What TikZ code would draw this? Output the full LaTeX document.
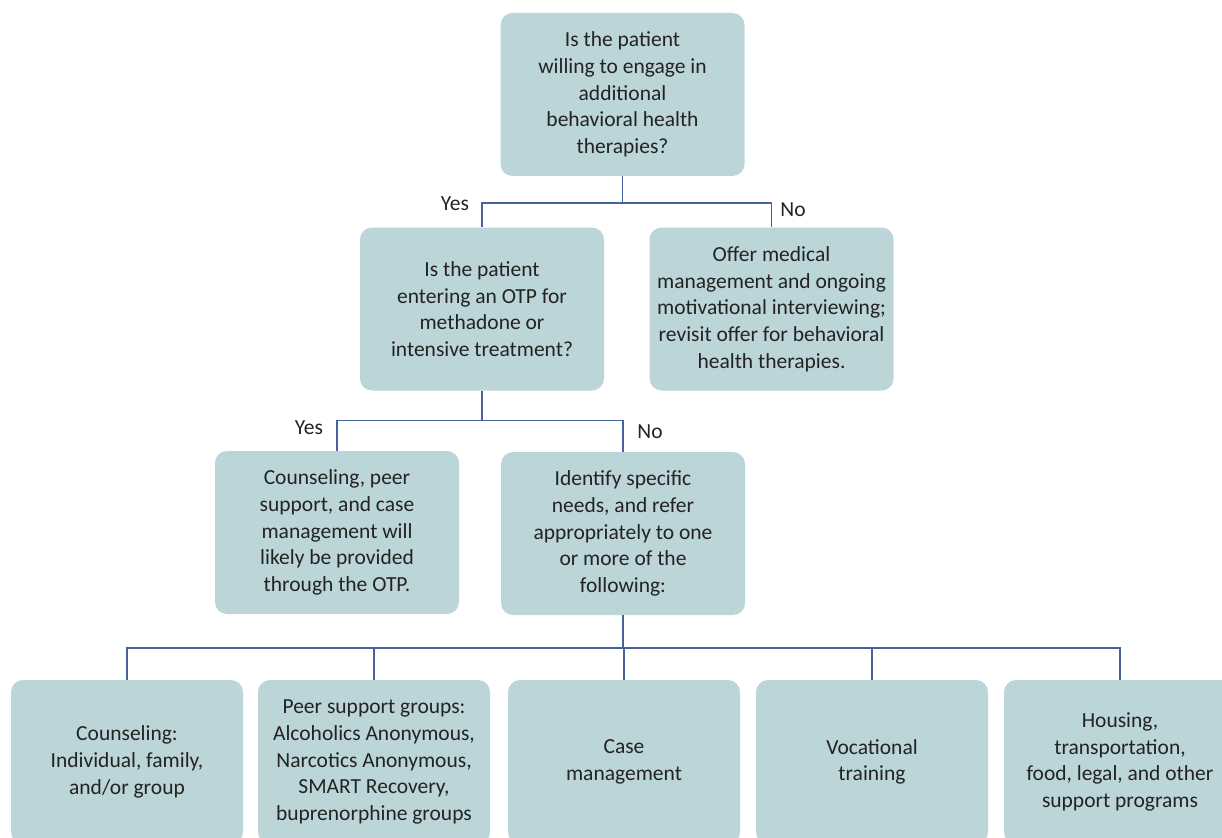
\documentclass[tikz,border=0pt]{standalone}
\usepackage{fontspec}
\setmainfont{Carlito}
\usepackage{tikz}
\usetikzlibrary{positioning}

\definecolor{boxfill}{RGB}{187,213,216}
\definecolor{linkblue}{RGB}{72,98,158}
\definecolor{txt}{RGB}{35,35,35}

\tikzset{
    box/.style={draw=none, fill=boxfill, rounded corners=12pt, align=center,
        minimum width=244pt, minimum height=163pt, text=txt,
        font=\fontsize{21.5}{26.7}\selectfont},
    smallbox/.style={box, minimum width=232pt, minimum height=164pt},
    link/.style={draw=linkblue, line width=1.5pt},
    answer/.style={text=txt, font=\fontsize{21.5}{26}\selectfont}
}

\begin{document}
\begin{tikzpicture}[x=1pt, y=-1pt]
        \useasboundingbox (0,0) rectangle (1222,837);

        % First question
        \node[box] (willing) at (622.5,94.5) {Is the patient\\willing to engage in\\additional\\behavioral health\\therapies?};

        % Second row
        \node[box] (otp) at (482,309) {Is the patient\\entering an OTP for\\methadone or\\intensive treatment?};
        \node[box] (offer) at (771.5,309) {Offer medical\\management and ongoing\\motivational interviewing;\\revisit offer for behavioral\\health therapies.};

        % Third row
        \node[box] (provided) at (337,532.5) {Counseling, peer\\support, and case\\management will\\likely be provided\\through the OTP.};
        \node[box] (identify) at (623,533.5) {Identify specific\\needs, and refer\\appropriately to one\\or more of the\\following:};

        % Referral options (cut by the lower edge)
        \node[smallbox] (counsel) at (127,762) {Counseling:\\Individual, family,\\and/or group};
        \node[smallbox] (peer) at (374,762) {Peer support groups:\\Alcoholics Anonymous,\\Narcotics Anonymous,\\SMART Recovery,\\buprenorphine groups};
        \node[smallbox] (casemgmt) at (624,762) {Case\\management};
        \node[smallbox] (vocation) at (872,762) {Vocational\\training};
        \node[smallbox] (housing) at (1120,762) {Housing,\\transportation,\\food, legal, and other\\support programs};

        % Branches
        \draw[link] (willing.south) -- ++(0,-27pt) -| (otp.north);
        \draw[link] (willing.south) -- ++(0,-27pt) -| (offer.north);
        \draw[link] (otp.south) -- ++(0,-30pt) -| (provided.north);
        \draw[link] (otp.south) -- ++(0,-30pt) -| (identify.north);
        \foreach \opt in {counsel, peer, casemgmt, vocation, housing} {
            \draw[link] (identify.south) -- ++(0,-33pt) -| (\opt.north);
        }

        % Answers
        \node[answer] (yes1) at (455,204) {Yes};
        \node[answer] (no1) at (793,210) {No};
        \node[answer] (yes2) at (309,428) {Yes};
        \node[answer] (no2) at (650,432) {No};

    \end{tikzpicture}
\end{document}
